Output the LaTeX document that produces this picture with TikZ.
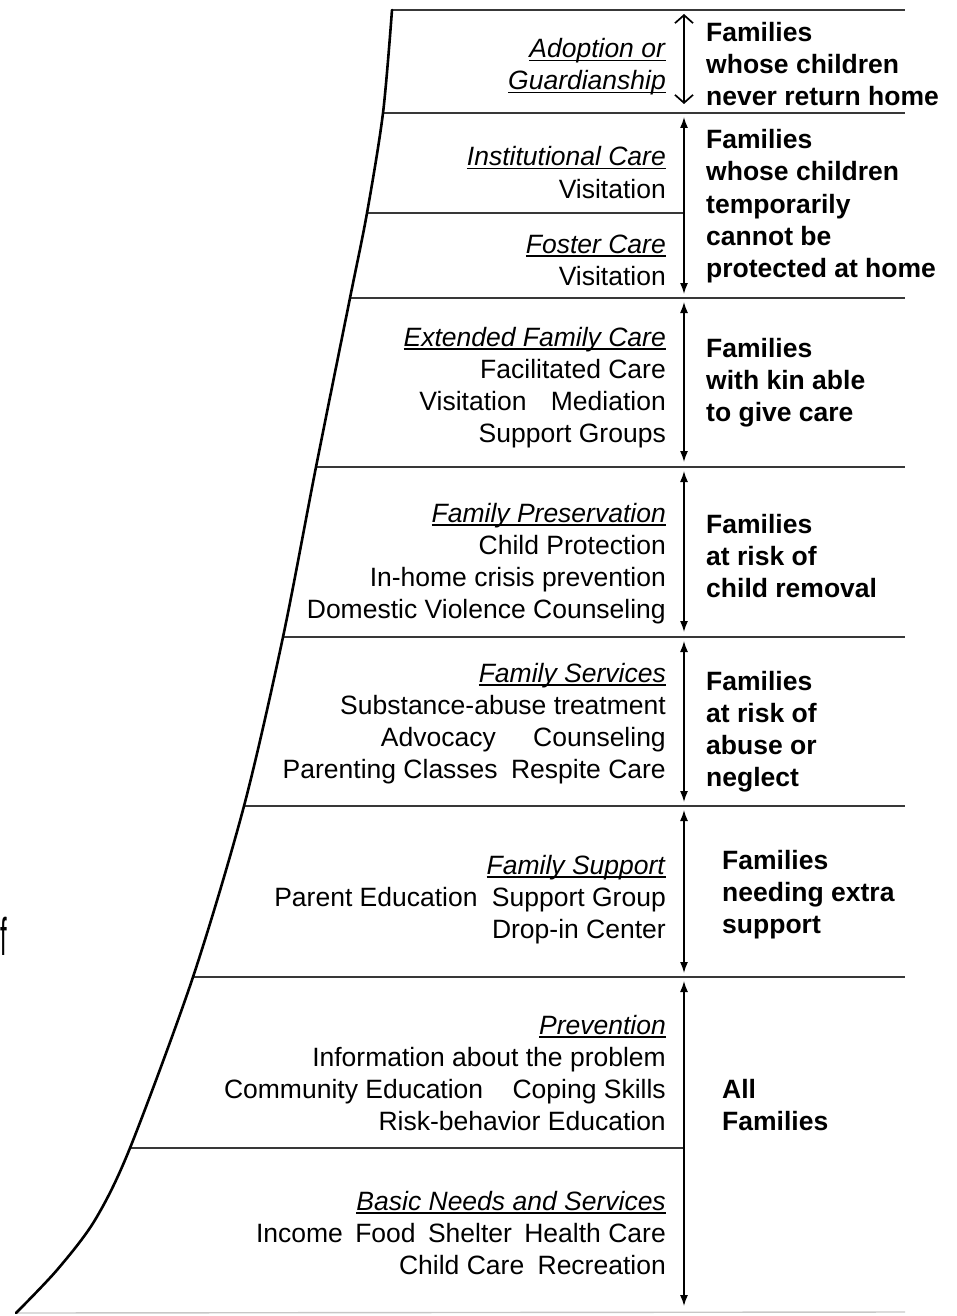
\documentclass[tikz,border=0pt]{standalone}
\usepackage{fontspec}
\setmainfont{Liberation Sans}
\usetikzlibrary{arrows.meta}
\newcommand\myul[1]{\setbox0\hbox{#1}\rlap{\rule[-3.5pt]{\wd0}{1.5pt}}\box0}
\begin{document}
\begin{tikzpicture}[x=1pt,y=-1pt,
  ltxt/.style={anchor=base east, inner sep=0pt, font=\fontsize{26.5}{32}\selectfont},
  rtxt/.style={anchor=base west, inner sep=0pt, font=\fontsize{26.5}{32}\selectfont\bfseries},
  hline/.style={draw=black!78, line width=1.6pt},
  faint/.style={draw=black!22, line width=1.4pt},
  edgecurve/.style={line width=2.6pt, black, line cap=round},
  farr/.style={line width=1.4pt, {Latex[length=11pt,width=8pt]}-{Latex[length=11pt,width=8pt]}},
  oarr/.style={line width=1.7pt, {Straight Barb[length=8pt,width=18pt]}-{Straight Barb[length=8pt,width=18pt]}}]
\useasboundingbox (0,0) rectangle (957,1316);

% left boundary points
\coordinate (c0) at (392,10);
\coordinate (c1) at (383,113);
\coordinate (cm) at (367,213);
\coordinate (c2) at (350,298);
\coordinate (c3) at (316,467);
\coordinate (c4) at (283,637);
\coordinate (c5) at (244,806);
\coordinate (c6) at (193,977);
\coordinate (c7) at (130,1148);
\coordinate (d1) at (95,1220);
\coordinate (d2) at (57,1270);
\coordinate (c8) at (16,1313);
% right ends
\coordinate (r0) at (905,10);
\coordinate (r1) at (905,113);
\coordinate (r2) at (905,298);
\coordinate (r3) at (905,467);
\coordinate (r4) at (905,637);
\coordinate (r5) at (905,806);
\coordinate (r6) at (905,977);
\coordinate (r8) at (905,1312);
\coordinate (m1) at (684,213);
\coordinate (m2) at (684,1148);

\draw[faint] (c8) -- (r8);
\foreach \i in {0,1,2,3,4,5,6} \draw[hline] (c\i) -- (r\i);
\draw[hline] (cm) -- (m1);
\draw[hline] (c7) -- (m2);
\draw[edgecurve] plot[smooth, tension=0.5] coordinates {(c0) (c1) (cm) (c2) (c3) (c4) (c5) (c6) (c7) (d1) (d2) (c8)};

% arrows
\coordinate (a1) at (684,14);  \coordinate (b1) at (684,104);
\coordinate (a2) at (684,117); \coordinate (b2) at (684,294);
\coordinate (a3) at (684,302); \coordinate (b3) at (684,462);
\coordinate (a4) at (684,471); \coordinate (b4) at (684,632);
\coordinate (a5) at (684,641); \coordinate (b5) at (684,802);
\coordinate (a6) at (684,810); \coordinate (b6) at (684,973);
\coordinate (a7) at (684,981); \coordinate (b7) at (684,1306);
\draw[oarr] (a1) -- (b1);
\foreach \i in {2,...,7} \draw[farr] (a\i) -- (b\i);

% left texts
\foreach \n/\y/\t in {
 1/58/{\myul{\textit{Adoption or}}},
 2/90/{\myul{\textit{Guardianship}}},
 3/166/{\myul{\textit{Institutional Care}}},
 4/198/{Visitation},
 5/253/{\myul{\textit{Foster Care}}},
 6/285/{Visitation},
 7/346/{\myul{\textit{Extended Family Care}}},
 8/378/{Facilitated Care},
 9/410/{Visitation\hspace{17pt} Mediation},
 10/442/{Support Groups},
 11/522/{\myul{\textit{Family Preservation}}},
 12/554/{Child Protection},
 13/586/{In-home crisis prevention},
 14/618/{Domestic Violence Counseling},
 15/682/{\myul{\textit{Family Services}}},
 16/714/{Substance-abuse treatment},
 17/746/{Advocacy\hspace{30pt} Counseling},
 18/778/{Parenting Classes\hspace{6pt} Respite Care},
 19/874/{\myul{\textit{Family Support}}},
 20/906/{Parent Education\hspace{7pt} Support Group},
 21/938/{Drop-in Center},
 22/1034/{\myul{\textit{Prevention}}},
 23/1066/{Information about the problem},
 24/1098/{Community Education\hspace{22pt} Coping Skills},
 25/1130/{Risk-behavior Education},
 26/1210/{\myul{\textit{Basic Needs and Services}}},
 27/1242/{Income\hspace{5pt} Food\hspace{5pt} Shelter\hspace{5pt} Health Care},
 28/1274/{Child Care\hspace{6pt} Recreation}}
 \node[ltxt] (L\n) at (666,\y) {\t};

% right texts
\foreach \n/\x/\y/\t in {
 1/706/42/Families, 2/706/74/whose children, 3/706/106/never return home,
 4/706/149/Families, 5/706/181/whose children, 6/706/213/temporarily,
 7/706/245/cannot be, 8/706/277/protected at home,
 9/706/357/Families, 10/706/389/with kin able, 11/706/421/to give care,
 12/706/533/Families, 13/706/565/at risk of, 14/706/597/child removal,
 15/706/690/Families, 16/706/722/at risk of, 17/706/754/abuse or, 18/706/786/neglect,
 19/722/869/Families, 20/722/901/needing extra, 21/722/933/support,
 22/722/1098/All, 23/722/1130/Families}
 \node[rtxt] (R\n) at (\x,\y) {\t};

% character at left edge
\node[anchor=base west, inner sep=0pt, xscale=0.45, font=\fontsize{53}{53}\selectfont] (fcut) at (0.5,955) {f};
\end{tikzpicture}
\end{document}
